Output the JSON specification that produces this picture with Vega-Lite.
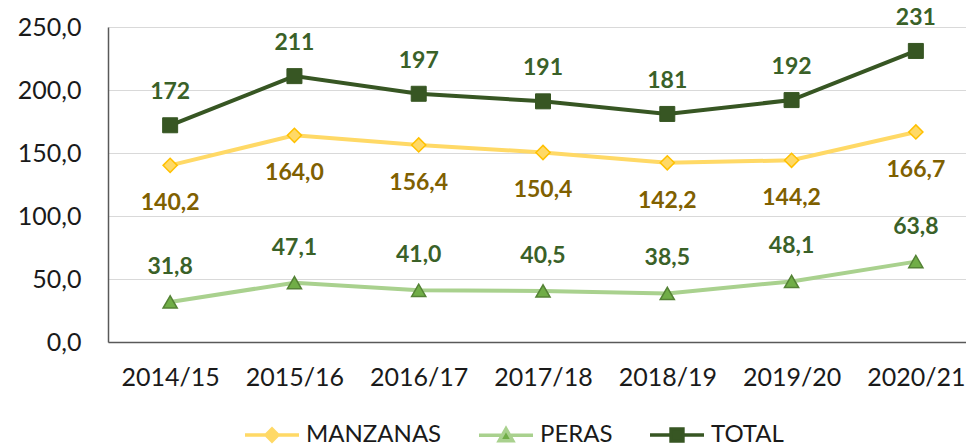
{
  "$schema": "https://vega.github.io/schema/vega-lite/v6.json",
  "width": 870,
  "height": 315,
  "autosize": {"type": "none"},
  "padding": {"left": 108, "top": 27, "right": 0, "bottom": 104},
  "background": "white",
  "config": {
    "view": {"stroke": null},
    "font": "Lato",
    "locale": {"number": {"decimal": ",", "thousands": ".", "grouping": [3], "currency": ["", " €"]}},
    "axis": {"labelFont": "Lato", "labelColor": "#1a1a1a", "title": null}
  },
  "data": {
    "values": [
      {"year": "2014/15", "serie": "MANZANAS", "value": 140.2},
      {"year": "2015/16", "serie": "MANZANAS", "value": 164.0},
      {"year": "2016/17", "serie": "MANZANAS", "value": 156.4},
      {"year": "2017/18", "serie": "MANZANAS", "value": 150.4},
      {"year": "2018/19", "serie": "MANZANAS", "value": 142.2},
      {"year": "2019/20", "serie": "MANZANAS", "value": 144.2},
      {"year": "2020/21", "serie": "MANZANAS", "value": 166.7},
      {"year": "2014/15", "serie": "PERAS", "value": 31.8},
      {"year": "2015/16", "serie": "PERAS", "value": 47.1},
      {"year": "2016/17", "serie": "PERAS", "value": 41.0},
      {"year": "2017/18", "serie": "PERAS", "value": 40.5},
      {"year": "2018/19", "serie": "PERAS", "value": 38.5},
      {"year": "2019/20", "serie": "PERAS", "value": 48.1},
      {"year": "2020/21", "serie": "PERAS", "value": 63.8},
      {"year": "2014/15", "serie": "TOTAL", "value": 172},
      {"year": "2015/16", "serie": "TOTAL", "value": 211},
      {"year": "2016/17", "serie": "TOTAL", "value": 197},
      {"year": "2017/18", "serie": "TOTAL", "value": 191},
      {"year": "2018/19", "serie": "TOTAL", "value": 181},
      {"year": "2019/20", "serie": "TOTAL", "value": 192},
      {"year": "2020/21", "serie": "TOTAL", "value": 231}
    ]
  },
  "encoding": {
    "x": {
      "field": "year",
      "type": "ordinal",
      "scale": {"type": "point", "padding": 0.5},
      "axis": {
        "labelAngle": 0,
        "labelFontSize": 25,
        "labelPadding": 23,
        "ticks": false,
        "grid": false,
        "domainColor": "#595959",
        "domainWidth": 1.5
      }
    },
    "y": {
      "field": "value",
      "type": "quantitative",
      "scale": {"domain": [0, 250], "nice": false, "zero": true},
      "axis": {
        "values": [0, 50, 100, 150, 200, 250],
        "format": ".1f",
        "labelFontSize": 25,
        "labelPadding": 27,
        "ticks": false,
        "grid": true,
        "gridColor": "#D9D9D9",
        "gridWidth": 1,
        "domainColor": "#595959",
        "domainWidth": 1.5
      }
    }
  },
  "layer": [
    {
      "mark": {"type": "line", "strokeWidth": 4},
      "encoding": {
        "color": {
          "field": "serie",
          "type": "nominal",
          "scale": {"domain": ["MANZANAS", "PERAS", "TOTAL"], "range": ["#FFD966", "#A9D18E", "#375623"]},
          "legend": {
            "orient": "none",
            "legendX": 135,
            "legendY": 379,
            "direction": "horizontal",
            "title": null,
            "padding": 0,
            "symbolSize": 2916,
            "symbolStrokeWidth": 3.5,
            "labelFont": "Lato",
            "labelFontSize": 24,
            "labelColor": "#1a1a1a",
            "labelOffset": 5,
            "columnPadding": 30,
            "labelLimit": 300,
            "encode": {
              "symbols": {
                "update": {
                  "shape": {"signal": "datum.value === 'MANZANAS' ? 'M-1,0H-0.22M0.22,0H1M0,-0.22L0.22,0L0,0.22L-0.22,0Z' : datum.value === 'PERAS' ? 'M-1,0H-0.18M0.18,0H1M0,-0.24L0.25,0.2L-0.25,0.2Z' : 'M-1,0H-0.22M0.22,0H1M-0.22,-0.22H0.22V0.22H-0.22Z'"},
                  "fill": {"signal": "datum.value === 'MANZANAS' ? '#FFD966' : datum.value === 'PERAS' ? '#70AD47' : '#375623'"},
                  "stroke": {"signal": "datum.value === 'MANZANAS' ? '#FFD24D' : datum.value === 'PERAS' ? '#A9D18E' : '#375623'"},
                  "strokeWidth": {"value": 3.5},
                  "opacity": {"value": 1}
                }
              }
            }
          }
        }
      }
    },
    {
      "transform": [{"filter": "datum.serie === 'MANZANAS'"}],
      "mark": {"type": "point", "shape": "diamond", "size": 200, "filled": true, "fill": "#FFD966", "stroke": "#FFC000", "strokeWidth": 1.5, "opacity": 1}
    },
    {
      "transform": [{"filter": "datum.serie === 'PERAS'"}],
      "mark": {"type": "point", "shape": "triangle-up", "size": 200, "filled": true, "fill": "#70AD47", "stroke": "#548235", "strokeWidth": 1.5, "opacity": 1}
    },
    {
      "transform": [{"filter": "datum.serie === 'TOTAL'"}],
      "mark": {"type": "point", "shape": "square", "size": 225, "filled": true, "fill": "#375623", "stroke": "#375623", "strokeWidth": 1, "opacity": 1}
    },
    {
      "transform": [{"filter": "datum.serie === 'TOTAL'"}],
      "mark": {"type": "text", "font": "Lato", "fontSize": 23, "fontWeight": "bold", "color": "#3A6128", "baseline": "middle", "dy": -33},
      "encoding": {"text": {"field": "value", "type": "quantitative", "format": ".0f"}}
    },
    {
      "transform": [{"filter": "datum.serie === 'MANZANAS'"}],
      "mark": {"type": "text", "font": "Lato", "fontSize": 23, "fontWeight": "bold", "color": "#7F6000", "baseline": "middle", "dy": 38},
      "encoding": {"text": {"field": "value", "type": "quantitative", "format": ".1f"}}
    },
    {
      "transform": [{"filter": "datum.serie === 'PERAS'"}],
      "mark": {"type": "text", "font": "Lato", "fontSize": 23, "fontWeight": "bold", "color": "#3A6128", "baseline": "middle", "dy": -35},
      "encoding": {"text": {"field": "value", "type": "quantitative", "format": ".1f"}}
    }
  ]
}
